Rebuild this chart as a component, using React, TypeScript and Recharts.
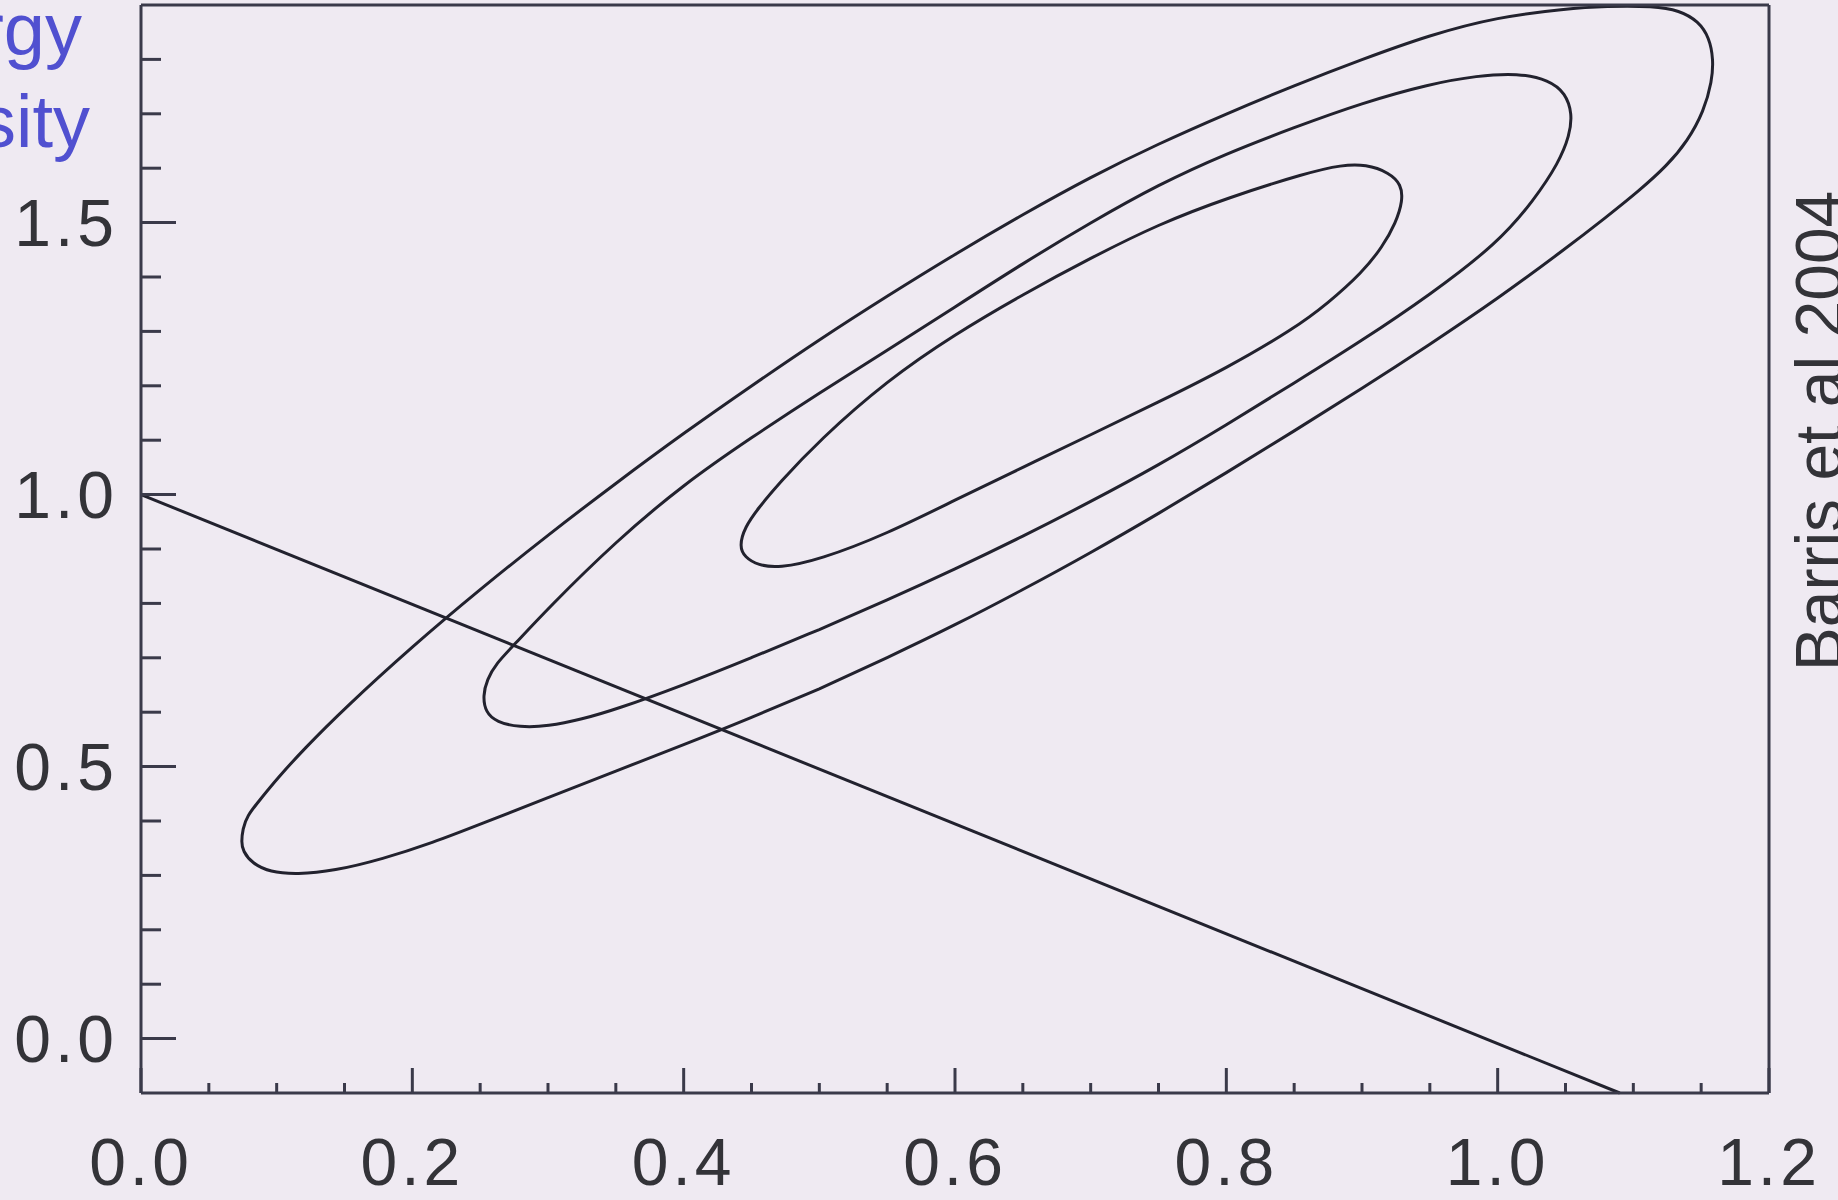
import React from "react";
import { LineChart, Line, XAxis, YAxis } from "recharts";

// axis ticks (minor + major) and the labelled values
const xTicks = [
  0, 0.05, 0.1, 0.15, 0.2, 0.25, 0.3, 0.35, 0.4, 0.45, 0.5, 0.55, 0.6, 0.65,
  0.7, 0.75, 0.8, 0.85, 0.9, 0.95, 1.0, 1.05, 1.1, 1.15, 1.2,
];
const xLabelValues = [0, 0.2, 0.4, 0.6, 0.8, 1.0, 1.2];
const xTickLabels = ["0.0", "0.2", "0.4", "0.6", "0.8", "1.0", "1.2"];

const yTicks = [
  0, 0.1, 0.2, 0.3, 0.4, 0.5, 0.6, 0.7, 0.8, 0.9, 1.0, 1.1, 1.2, 1.3, 1.4,
  1.5, 1.6, 1.7, 1.8,
];
const yLabelValues = [0, 0.5, 1.0, 1.5];
const yTickLabels = ["0.0", "0.5", "1.0", "1.5"];

// confidence contours as [x, y]
// (each loop starts and ends on its lower edge)
const innerContour = [
  [0.650, 1.050], [0.700, 1.110], [0.750, 1.170], [0.800, 1.232], [0.850, 1.305],
  [0.875, 1.352], [0.900, 1.408], [0.915, 1.455], [0.925, 1.500], [0.930, 1.540],
  [0.929, 1.570], [0.920, 1.592], [0.903, 1.607], [0.885, 1.606], [0.860, 1.592],
  [0.800, 1.545], [0.750, 1.497], [0.700, 1.435], [0.650, 1.368], [0.600, 1.295],
  [0.550, 1.210], [0.500, 1.100], [0.470, 1.020], [0.455, 0.975], [0.445, 0.940],
  [0.441, 0.905], [0.445, 0.885], [0.455, 0.870], [0.470, 0.865], [0.500, 0.880],
  [0.550, 0.928], [0.600, 0.990], [0.650, 1.050],
];

const middleContour = [
  [0.500, 0.752], [0.550, 0.806], [0.600, 0.863], [0.650, 0.923], [0.700, 0.987],
  [0.750, 1.054], [0.800, 1.128], [0.850, 1.205], [0.900, 1.283], [0.950, 1.367],
  [1.000, 1.462], [1.027, 1.542], [1.045, 1.610], [1.053, 1.660], [1.055, 1.700],
  [1.050, 1.738], [1.038, 1.762], [1.015, 1.775], [0.985, 1.770], [0.950, 1.755],
  [0.900, 1.720], [0.850, 1.675], [0.800, 1.627], [0.750, 1.570], [0.700, 1.500],
  [0.650, 1.425], [0.600, 1.345], [0.550, 1.265], [0.500, 1.187], [0.450, 1.105],
  [0.400, 1.019], [0.350, 0.914], [0.300, 0.791], [0.274, 0.721], [0.262, 0.690],
  [0.255, 0.660], [0.252, 0.630], [0.254, 0.600], [0.262, 0.582], [0.279, 0.572],
  [0.300, 0.574], [0.325, 0.587], [0.350, 0.605], [0.400, 0.650], [0.450, 0.700],
  [0.500, 0.752],
];

const outerContour = [
  [0.500, 0.643], [0.550, 0.700], [0.600, 0.760], [0.650, 0.825], [0.700, 0.893],
  [0.750, 0.965], [0.800, 1.040], [0.850, 1.117], [0.900, 1.195], [0.950, 1.276],
  [1.000, 1.360], [1.050, 1.452], [1.080, 1.510], [1.104, 1.558], [1.125, 1.605],
  [1.140, 1.650], [1.152, 1.705], [1.158, 1.760], [1.159, 1.800], [1.156, 1.840],
  [1.148, 1.870], [1.134, 1.890], [1.115, 1.898], [1.080, 1.898], [1.050, 1.893],
  [1.000, 1.878], [0.950, 1.845], [0.900, 1.800], [0.850, 1.752], [0.800, 1.700],
  [0.750, 1.645], [0.700, 1.584], [0.650, 1.515], [0.600, 1.442], [0.550, 1.365],
  [0.500, 1.285], [0.450, 1.200], [0.400, 1.113], [0.350, 1.021], [0.300, 0.926],
  [0.250, 0.826], [0.200, 0.721], [0.150, 0.607], [0.120, 0.532], [0.100, 0.477],
  [0.088, 0.440], [0.078, 0.409], [0.075, 0.385], [0.074, 0.362], [0.075, 0.345],
  [0.082, 0.322], [0.095, 0.306], [0.115, 0.302], [0.142, 0.308], [0.178, 0.330],
  [0.215, 0.360], [0.250, 0.394], [0.300, 0.443], [0.350, 0.492], [0.400, 0.540],
  [0.450, 0.590], [0.500, 0.643],
];

// flat universe line
const flatLine = [
  [0, 1.0],
  [1.09, -0.1],
];

const BG = "#efeaf2";
const AXIS = "#3a3a4a";
const CURVE = "#22222e";
const LABEL = "#333338";
const FONT = "'Liberation Sans', Arial, Helvetica, sans-serif";

const toPoints = (pairs: number[][]) => pairs.map(([x, y]) => ({ x, y }));

function labelFor(v: number, values: number[], labels: string[]) {
  const i = values.findIndex((u) => Math.abs(u - v) < 1e-6);
  return i >= 0 ? labels[i] : null;
}

function BottomTick({ x, y, payload }: any) {
  const label = labelFor(payload.value, xLabelValues, xTickLabels);
  const len = label ? 25 : 10;
  return (
    <g>
      <line x1={x} x2={x} y1={y} y2={y - len} stroke={AXIS} strokeWidth={3} />
      {label && (
        <text x={x} y={y + 92} textAnchor="middle" fontSize={66} letterSpacing={4} fontFamily={FONT} fill={LABEL}>
          {label}
        </text>
      )}
    </g>
  );
}

function TopTick({ x, y, payload }: any) {
  const major = labelFor(payload.value, xLabelValues, xTickLabels);
  const len = major ? 25 : 10;
  return <line x1={x} x2={x} y1={y} y2={y + len} stroke={AXIS} strokeWidth={3} />;
}

function LeftTick({ x, y, payload }: any) {
  const label = labelFor(payload.value, yLabelValues, yTickLabels);
  const len = label ? 35 : 20;
  return (
    <g>
      <line x1={x} x2={x + len} y1={y} y2={y} stroke={AXIS} strokeWidth={3} />
      {label && (
        <text x={x - 23} y={y} dy="0.36em" textAnchor="end" fontSize={66} letterSpacing={4} fontFamily={FONT} fill={LABEL}>
          {label}
        </text>
      )}
    </g>
  );
}

function RightTick({ x, y, payload }: any) {
  const major = labelFor(payload.value, yLabelValues, yTickLabels);
  const len = major ? 35 : 20;
  return <line x1={x} x2={x - len} y1={y} y2={y} stroke={AXIS} strokeWidth={3} />;
}

export default function App() {
  const axisLine = { stroke: AXIS, strokeWidth: 3 };
  return (
    <div style={{ position: "absolute", left: 0, top: 0, width: 1838, height: 1200, background: BG, overflow: "hidden" }}>
      <LineChart width={1838} height={1200} margin={{ top: 0, right: 0, bottom: 0, left: 0 }}>
        <XAxis
          xAxisId="b"
          type="number"
          dataKey="x"
          domain={[0, 1.2]}
          ticks={xTicks}
          interval={0}
          height={107}
          tickSize={0}
          tickMargin={0}
          tickLine={false}
          axisLine={axisLine}
          tick={(p: any) => <BottomTick {...p} />}
        />
        <XAxis
          xAxisId="t"
          orientation="top"
          type="number"
          dataKey="x"
          domain={[0, 1.2]}
          ticks={xTicks}
          interval={0}
          height={5}
          tickSize={0}
          tickMargin={0}
          tickLine={false}
          axisLine={axisLine}
          tick={(p: any) => <TopTick {...p} />}
        />
        <YAxis
          yAxisId="l"
          type="number"
          domain={[-0.1, 1.9]}
          ticks={yTicks}
          interval={0}
          width={141}
          tickSize={0}
          tickMargin={0}
          tickLine={false}
          axisLine={axisLine}
          tick={(p: any) => <LeftTick {...p} />}
        />
        <YAxis
          yAxisId="r"
          orientation="right"
          type="number"
          domain={[-0.1, 1.9]}
          ticks={yTicks}
          interval={0}
          width={69}
          tickSize={0}
          tickMargin={0}
          tickLine={false}
          axisLine={axisLine}
          tick={(p: any) => <RightTick {...p} />}
        />
        {[outerContour, middleContour, innerContour, flatLine].map((pairs, i) => (
          <Line
            key={i}
            xAxisId="b"
            yAxisId="l"
            data={toPoints(pairs)}
            dataKey="y"
            type={i === 3 ? "linear" : "basis"}
            stroke={CURVE}
            strokeWidth={3}
            strokeLinejoin="round"
            dot={false}
            activeDot={false}
            isAnimationActive={false}
          />
        ))}
      </LineChart>
      <svg width={1838} height={1200} style={{ position: "absolute", left: 0, top: 0, pointerEvents: "none" }}>
        <text x={82} y={55} textAnchor="end" fontSize={74} fontFamily={FONT} fill="#5050d0">
          Energy
        </text>
        <text x={90} y={147} textAnchor="end" fontSize={74} fontFamily={FONT} fill="#5050d0">
          density
        </text>
        <text
          transform="translate(1842, 431) rotate(-90)"
          textAnchor="middle"
          fontSize={66}
          fontFamily={FONT}
          fill={LABEL}
        >
          Barris et al 2004
        </text>
      </svg>
    </div>
  );
}
